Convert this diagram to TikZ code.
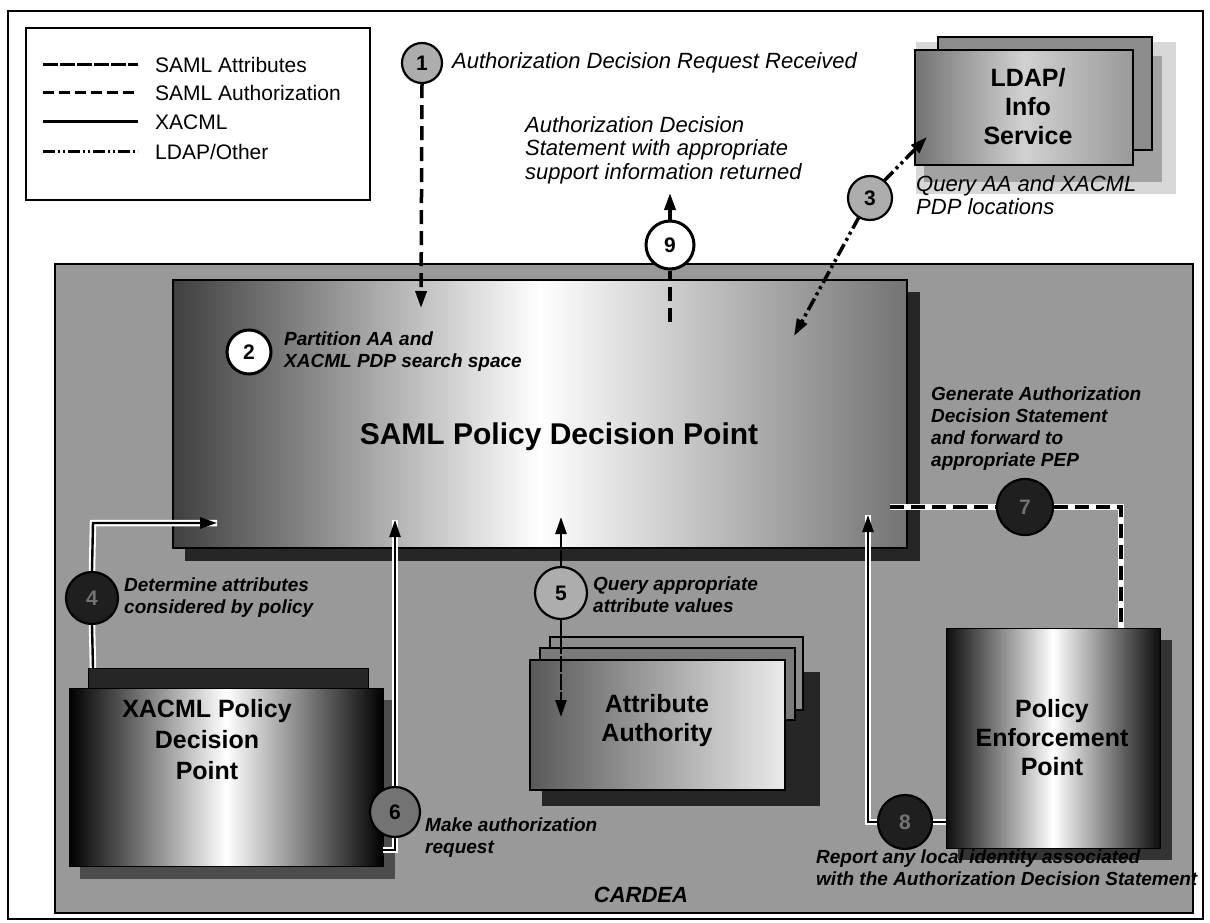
\documentclass[tikz,border=0pt]{standalone}
\usepackage{fontspec}
\setmainfont{Liberation Sans}
\usetikzlibrary{arrows.meta}
\begin{document}
\begin{tikzpicture}[x=1pt,y=-1pt,
  stepnum/.style={circle, draw=black, line width=2.2pt, inner sep=0pt,
    font=\fontsize{21}{21}\selectfont\bfseries},
  lightc/.style={stepnum, fill=black!32},
  midc/.style={stepnum, fill=black!55},
  whitec/.style={stepnum, fill=white, line width=3pt},
  darkc/.style={stepnum, fill=black!88, text=black!55},
  steptxt/.style={font=\fontsize{19}{22}\selectfont\bfseries\itshape, align=left, anchor=west, inner sep=0pt},
  toptxt/.style={font=\fontsize{22}{23.5}\selectfont\itshape, align=left, anchor=west, inner sep=0pt},
  boxtxt/.style={font=\fontsize{25}{29}\selectfont\bfseries, align=center, inner sep=0pt},
  legtxt/.style={font=\fontsize{21}{21}\selectfont, anchor=west, inner sep=0pt},
  plainbox/.style={draw=black, line width=1.6pt, inner sep=0pt},
  tipA/.style={-{Triangle[length=17pt,width=11pt]}},
  authz/.style={line width=3.5pt, dash pattern=on 14pt off 7pt},
  attrs/.style={line width=2.6pt, dash pattern=on 16pt off 2pt},
  xacml/.style={line width=2.4pt},
  ldapl/.style={line width=3.5pt, dash pattern=on 13pt off 4pt on 3pt off 4pt on 3pt off 4pt},
  halo/.style={preaction={draw=white, line width=6.5pt, solid, -}},
]
\useasboundingbox (0,0) rectangle (1210,923);
\fill[white] (0,0) rectangle (1210,923);

% outer frame and legend
\draw[line width=2.5pt] (8,11) rectangle (1203,919);
\draw[line width=2pt] (26,28) rectangle (370,200);
\draw[line width=3pt, dash pattern=on 15pt off 2pt] (43,65) -- (138,65);
\draw[line width=3pt, dash pattern=on 11pt off 5pt] (43,93) -- (138,93);
\draw[line width=3pt] (43,122) -- (138,122);
\draw[line width=3pt, dash pattern=on 12pt off 3pt on 2pt off 3pt on 2pt off 3pt] (43,152) -- (138,152);
\node[legtxt] (lg1) at (155,65) {SAML Attributes};
\node[legtxt] (lg2) at (155,93) {SAML Authorization};
\node[legtxt] (lg3) at (155,122) {XACML};
\node[legtxt] (lg4) at (155,152) {LDAP/Other};

% LDAP / Info Service
\fill[black!22, opacity=.7] (916,42) rectangle (1176,194);
\fill[black!45, opacity=.7] (924,56) rectangle (1162,182);
\node[plainbox, fill=black!45, minimum width=214pt, minimum height=113pt] (ldapback) at (1045,93.5) {};
\node[plainbox, left color=black!55, right color=black!40, middle color=black!18,
      minimum width=218pt, minimum height=115pt] (ldap) at (1024,107.5) {};
\node[boxtxt] (ldaplbl) at (1028,107) {LDAP/\\Info\\Service};

% CARDEA frame
\node[draw=black, line width=2pt, fill=black!40, minimum width=1138pt, minimum height=649pt, inner sep=0pt] (cardea) at (624,588.5) {};
\node[font=\fontsize{22}{22}\selectfont\bfseries\itshape, inner sep=0pt] (cardealbl) at (641,895) {CARDEA};

% SAML PDP
\fill[black!85] (185,292) rectangle (920,561);
\node[plainbox, left color=black!75, right color=black!55, middle color=white,
      minimum width=734pt, minimum height=268pt] (pdp) at (540,414) {};
\node[font=\fontsize{30}{30}\selectfont\bfseries, inner sep=0pt] (pdplbl) at (559,437) {SAML Policy Decision Point};

% XACML PDP
\fill[black!70] (80,700) rectangle (395,879);
\node[draw=black, fill=black!85, minimum width=280pt, minimum height=24pt, inner sep=0pt] (xback) at (228,680) {};
\node[draw=black, line width=1pt, left color=black, right color=black, middle color=white,
      minimum width=314pt, minimum height=178pt, inner sep=0pt] (xacml) at (226,777) {};
\node[boxtxt, font=\fontsize{25}{31}\selectfont\bfseries] (xacmllbl) at (207,740) {XACML Policy\\Decision\\Point};

% Attribute Authority
\fill[black!85] (542,672) rectangle (820,806);
\node[plainbox, fill=black!45, minimum width=253pt, minimum height=73pt] (aa2) at (676.5,673.5) {};
\node[plainbox, fill=black!52, minimum width=255pt, minimum height=72pt] (aa1) at (667.5,684) {};
\node[plainbox, left color=black!65, right color=black!8,
      minimum width=255pt, minimum height=130pt] (aa) at (657.5,725) {};
\node[boxtxt] (aalbl) at (657,721) {Attribute\\Authority};

% Policy Enforcement Point
\fill[black!80] (958,640) rectangle (1172,860);
\node[draw=black, line width=1pt, left color=black!95, right color=black!95, middle color=white,
      minimum width=214pt, minimum height=220pt, inner sep=0pt] (pep) at (1053,738) {};
\node[boxtxt] (peplbl) at (1052,738) {Policy\\Enforcement\\Point};

% step circles
\node[lightc, minimum size=40pt] (c1) at (422,63) {1};
\node[whitec, minimum size=44pt] (c2) at (249,352) {2};
\node[lightc, minimum size=44pt] (c3) at (870,198) {3};
\node[darkc, minimum size=52pt] (c4) at (92,598) {4};
\node[lightc, minimum size=52pt] (c5) at (561,593) {5};
\node[midc, minimum size=50pt] (c6) at (395,812) {6};
\node[darkc, minimum size=56pt] (c7) at (1025,507) {7};
\node[darkc, minimum size=54pt] (c8) at (905,822) {8};
\node[whitec, minimum size=48pt] (c9) at (670,245) {9};

% anchor points
\coordinate (p1) at (421,308);
\coordinate (p9) at (670,322);
\coordinate (t9) at (670,193);
\coordinate (p3) at (794,336);
\coordinate (l3) at (927,137);
\coordinate (x4) at (93,668);
\coordinate (k4) at (93,523);
\coordinate (p4) at (217,523);
\coordinate (s6) at (383,850);
\coordinate (k6) at (395,850);
\coordinate (p6) at (395,520);
\coordinate (p5u) at (561,517);
\coordinate (p5d) at (561,717);
\coordinate (s7) at (890,507);
\coordinate (k7) at (1121,507);
\coordinate (e7) at (1121,628);
\coordinate (s8) at (946,822);
\coordinate (k8) at (868,822);
\coordinate (p8) at (868,515);

% connectors
\draw[authz, tipA] (c1.south) -- (p1);
\draw[authz] (p9) -- (c9.south);
\draw[line width=3.5pt, tipA] (c9.north) -- (t9);
\draw[ldapl, tipA] (c3) ++(-11,19) -- (p3);
\draw[ldapl, tipA] (c3) ++(14,-17) -- (l3);
\draw[xacml, halo] (x4) -- (c4.south);
\draw[xacml, halo, tipA] (c4.north) -- (k4) -- (p4);
\draw[xacml, halo] (s6) -- (k6) -- (c6.south);
\draw[xacml, halo, tipA] (c6.north) -- (p6);
\draw[attrs, tipA] (c5.north) -- (p5u);
\draw[attrs, tipA] (c5.south) -- (p5d);
\draw[authz, halo] (s7) -- (c7.west);
\draw[authz, halo] (c7.east) -- (k7) -- (e7);
\draw[xacml, halo] (s8) -- (c8.east);
\draw[xacml, halo, tipA] (c8.west) -- (k8) -- (p8);

% step texts
\node[toptxt] (t1) at (452,63) {Authorization Decision Request Received};
\node[toptxt] (t9txt) at (525,150) {Authorization Decision\\Statement with appropriate\\support information returned};
\node[toptxt] (t3) at (916,195) {Query AA and XACML\\PDP locations};
\node[steptxt] (t2) at (284,352) {Partition AA and\\XACML PDP search space};
\node[steptxt] (t4) at (124,598) {Determine attributes\\considered by policy};
\node[steptxt] (t5) at (593,595) {Query appropriate\\attribute values};
\node[steptxt] (t6) at (425,838) {Make authorization\\request};
\node[steptxt] (t7) at (931,429) {Generate Authorization\\Decision Statement\\and forward to\\appropriate PEP};
\node[steptxt] (t8) at (816,868) {Report any local identity associated\\with the Authorization Decision Statement};
\end{tikzpicture}
\end{document}
